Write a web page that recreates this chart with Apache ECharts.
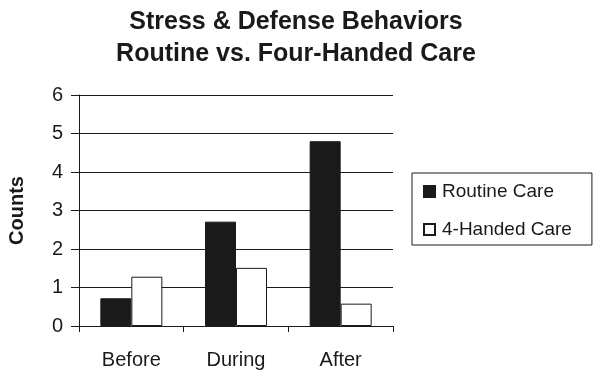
<!DOCTYPE html>
<html>
<head>
<meta charset="utf-8">
<script src="https://cdn.jsdelivr.net/npm/echarts@6/dist/echarts.min.js"></script>
<style>
  html, body { margin: 0; padding: 0; background: #fff; }
  #chart { width: 602px; height: 380px; }
</style>
</head>
<body>
<div id="chart"></div>
<script>
const categories = ['Before', 'During', 'After'];
const routineCare = [0.72, 2.71, 4.80];
const fourHandedCare = [1.28, 1.51, 0.58];
const yTicks = [0, 1, 2, 3, 4, 5, 6];

const chart = echarts.init(document.getElementById('chart'));
const font = 'Liberation Sans, Arial, sans-serif';
const ink = '#1a1a1a';

chart.setOption({
    animation: false,
    title: {
        text: 'Stress & Defense Behaviors\nRoutine vs. Four-Handed Care',
        left: 291,
        top: 1,
        textAlign: 'center',
        textStyle: {
            fontFamily: font,
            fontSize: 25,
            fontWeight: 'bold',
            color: ink,
            lineHeight: 32
        }
    },
    legend: {
        orient: 'vertical',
        left: 412,
        top: 173,
        padding: [9, 20, 6, 11],
        itemGap: 19,
        itemWidth: 11,
        itemHeight: 11,
        borderColor: ink,
        borderWidth: 1,
        icon: 'rect',
        textStyle: { fontFamily: font, fontSize: 19, color: ink, padding: [0, 0, 0, 2] },
        data: ['Routine Care', '4-Handed Care']
    },
    grid: { left: 79, right: 209, top: 95, bottom: 54, outerBoundsMode: 'none' },
    xAxis: {
        type: 'category',
        data: categories,
        axisLine: { lineStyle: { color: ink, width: 1 } },
        axisTick: { show: true, alignWithLabel: false, length: 6, lineStyle: { color: ink } },
        axisLabel: { fontFamily: font, fontSize: 20, color: ink, margin: 24 }
    },
    yAxis: {
        type: 'value',
        min: yTicks[0],
        max: yTicks[yTicks.length - 1],
        interval: 1,
        name: 'Counts',
        nameLocation: 'middle',
        nameGap: 52,
        nameRotate: 90,
        nameTextStyle: { fontFamily: font, fontSize: 20, fontWeight: 'bold', color: ink },
        axisLine: { show: true, lineStyle: { color: ink, width: 1 } },
        axisTick: { show: true, length: 8, lineStyle: { color: ink } },
        axisLabel: { fontFamily: font, fontSize: 20, color: ink, margin: 16 },
        splitLine: { show: true, lineStyle: { color: ink, width: 1 } }
    },
    series: [
        {
            name: 'Routine Care',
            type: 'bar',
            data: routineCare,
            barWidth: 31,
            barGap: '0%',
            itemStyle: { color: ink, borderColor: ink, borderWidth: 1 }
        },
        {
            name: '4-Handed Care',
            type: 'bar',
            data: fourHandedCare,
            barWidth: 31,
            barGap: '0%',
            itemStyle: { color: '#fff', borderColor: ink, borderWidth: 1 }
        }
    ]
});
</script>
</body>
</html>
